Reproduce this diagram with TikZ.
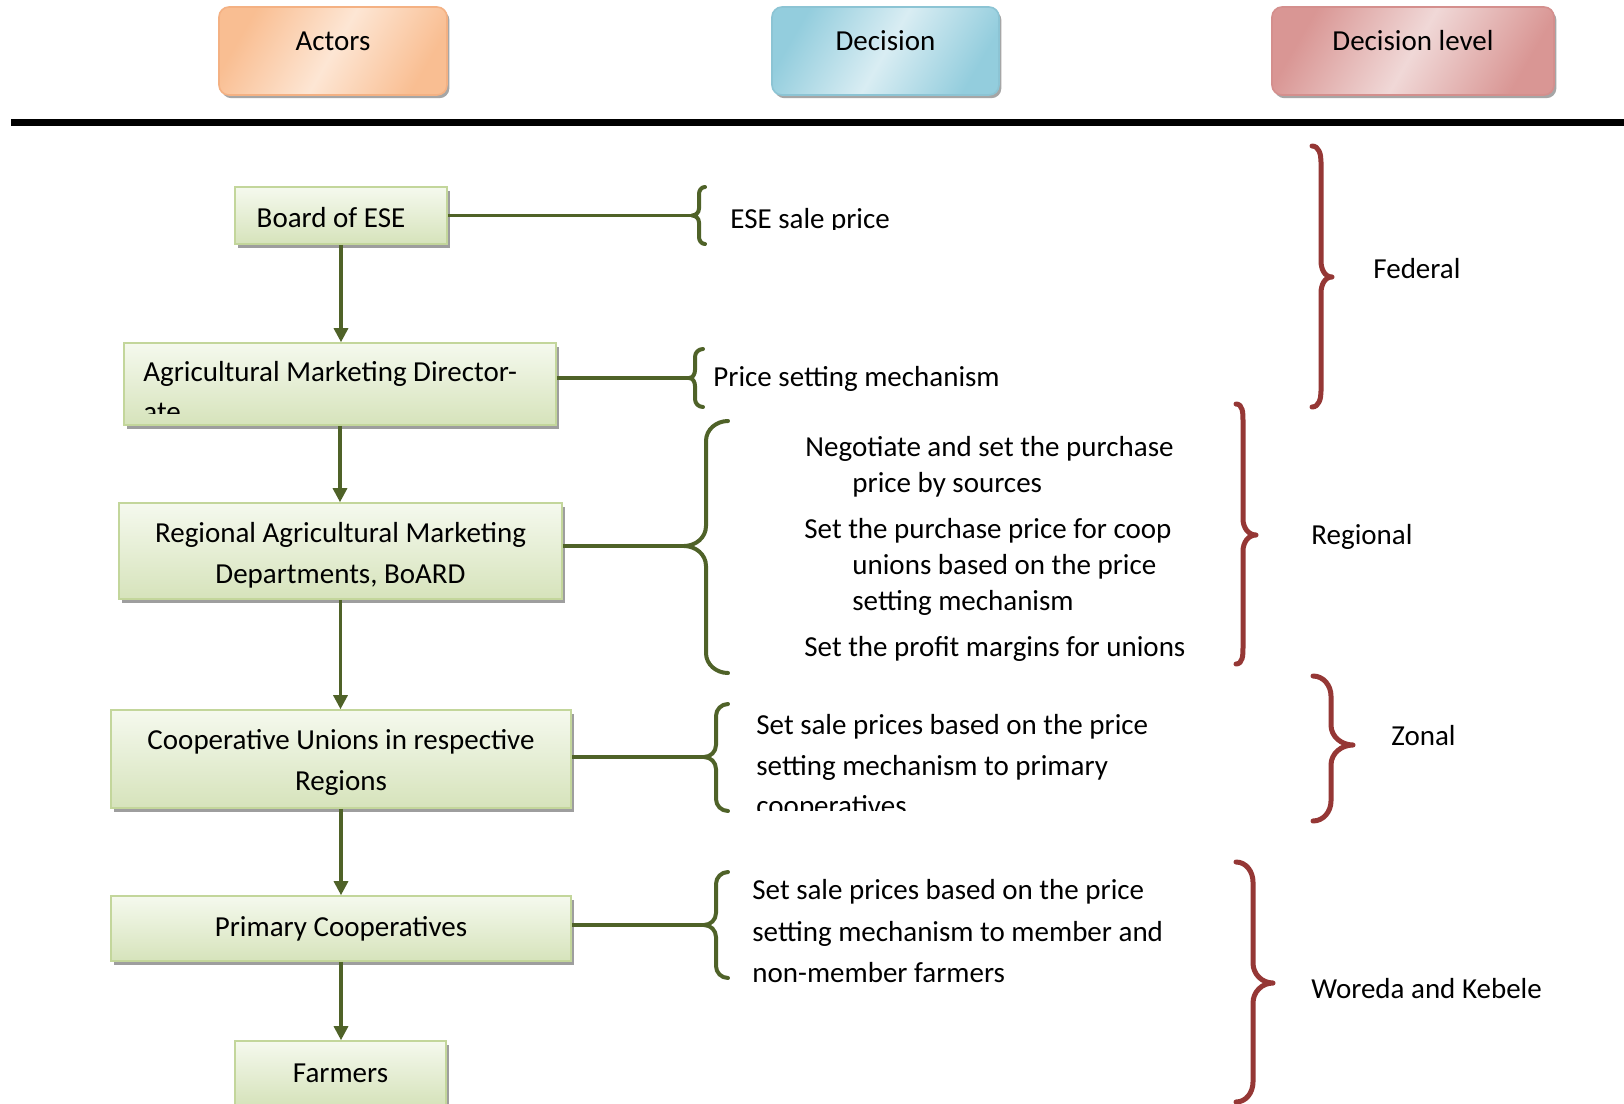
\documentclass[tikz,border=0pt]{standalone}
\usepackage{fontspec}
\setmainfont{Carlito}
\usetikzlibrary{arrows.meta,shadows}
\definecolor{gline}{HTML}{4F6228}
\definecolor{rbr}{HTML}{953735}
\definecolor{gtop}{HTML}{F5F9EE}
\definecolor{gbot}{HTML}{D6E3BB}
\definecolor{gborder}{HTML}{C3D69B}
\definecolor{oedge}{HTML}{F9BE92}
\definecolor{omid}{HTML}{FDE6D4}
\definecolor{oborder}{HTML}{F4B183}
\definecolor{bedge}{HTML}{93CDDD}
\definecolor{bmid}{HTML}{D9EDF3}
\definecolor{bborder}{HTML}{8CC4D4}
\definecolor{redge}{HTML}{D99694}
\definecolor{rmid}{HTML}{F0D8D7}
\definecolor{rborder}{HTML}{D48F8D}
% '{' : ends x, vertical x, tip x, top, mid, bottom, radius, style
\newcommand\myopenbrace[8]{%
  \draw[#8] (#1,#4) to[out=180,in=90] (#2,#4+#7) -- (#2,#5-#7)
    to[out=-90,in=0] (#3,#5) to[out=0,in=90] (#2,#5+#7) -- (#2,#6-#7)
    to[out=-90,in=180] (#1,#6);}
% '}'
\newcommand\myclosebrace[8]{%
  \draw[#8] (#1,#4) to[out=0,in=90] (#2,#4+#7) -- (#2,#5-#7)
    to[out=-90,in=180] (#3,#5) to[out=180,in=90] (#2,#5+#7) -- (#2,#6-#7)
    to[out=-90,in=0] (#1,#6);}
\begin{document}
\begin{tikzpicture}[x=0.5pt,y=-0.5pt,
  font=\fontsize{14.5}{20.5}\selectfont,
  gbox/.style={draw=gborder, line width=0.8pt, top color=gtop, bottom color=gbot,
    drop shadow={shadow xshift=1.6pt,shadow yshift=-2pt,fill=black!38,opacity=1},
    align=center, inner sep=0pt},
  hbox/.style={rounded corners=5pt, line width=0.8pt, minimum height=44pt, inner sep=0pt,
    drop shadow={shadow xshift=1.2pt,shadow yshift=-1.6pt,fill=black!35,opacity=1}},
  conn/.style={draw=gline, line width=1.6pt},
  arr/.style={conn, -{Triangle[width=7pt,length=7pt]}},
  txt/.style={anchor=base west, inner sep=0pt},
  gbrace/.style={draw=gline, line width=2pt, line cap=round, line join=round},
  rbrace/.style={draw=rbr, line width=2.5pt, line cap=round, line join=round}]
\clip (0,0) rectangle (1624,1104);
\fill[white] (0,0) rectangle (1624,1104);

% header boxes
\node[hbox, draw=oborder, left color=oedge, right color=oedge, middle color=omid, shading angle=60,
  minimum width=114pt, label={[yshift=5pt]center:Actors}] (actors) at (333,51) {};
\node[hbox, draw=bborder, left color=bedge, right color=bedge, middle color=bmid, shading angle=60,
  minimum width=113.5pt, label={[yshift=5pt]center:Decision}] (decision) at (885.5,51) {};
\node[hbox, draw=rborder, left color=redge, right color=redge, middle color=rmid, shading angle=60,
  minimum width=141pt, label={[yshift=5pt]center:Decision level}] (level) at (1413,51) {};

% heavy rule
\coordinate (ruleL) at (11,122.5);
\coordinate (ruleR) at (1624,122.5);
\draw[line width=3.5pt] (ruleL) -- (ruleR);

% actor boxes
\node[gbox, minimum width=106pt, minimum height=28.5pt] (board) at (341,215.5) {};
\node[gbox, minimum width=216pt, minimum height=41pt] (agri) at (340,384) {};
\node[gbox, minimum width=221.5pt, minimum height=48pt] (reg) at (340.5,551) {};
\node[gbox, minimum width=230pt, minimum height=49pt] (coop) at (341,759) {};
\node[gbox, minimum width=230pt, minimum height=32.5pt] (prim) at (341,928.5) {Primary Cooperatives};
\node[gbox, minimum width=105.5pt, minimum height=32pt] (farm) at (340.5,1073) {Farmers};
\node[inner sep=0pt] (boardt) at ([xshift=-5pt,yshift=-1pt]board.center) {Board of ESE};
\node[align=center, inner sep=0pt] (regt) at ([yshift=-2pt]reg.center) {Regional Agricultural Marketing\\Departments, BoARD};
\node[align=center, inner sep=0pt] (coopt) at ([yshift=-1.5pt]coop.center) {Cooperative Unions in respective\\Regions};

\begin{scope}
\clip (agri.north west) rectangle (556,413);
\node[txt] (agrit1) at (143,381) {Agricultural Marketing Director-};
\node[txt] (agrit2) at (143,421) {ate};
\end{scope}

% arrows
\draw[arr] (board.south) -- (board.south |- agri.north);
\draw[arr] (agri.south) -- (agri.south |- reg.north);
\draw[arr] (reg.south) -- (reg.south |- coop.north);
\draw[arr] (coop.south) -- (coop.south |- prim.north);
\draw[arr] (prim.south) -- (prim.south |- farm.north);

% brace tips
\coordinate (t1) at (692,215.5);
\coordinate (t2) at (689,378);
\coordinate (t3) at (684,546);
\coordinate (t4) at (704,757);
\coordinate (t5) at (704,925);

\draw[conn] (board.east |- t1) -- (t1);
\draw[conn] (agri.east |- t2) -- (t2);
\draw[conn] (reg.east |- t3) -- (t3);
\draw[conn] (coop.east |- t4) -- (t4);
\draw[conn] (prim.east |- t5) -- (t5);

% green braces
\myopenbrace{705}{699}{692}{187}{215.5}{244}{7}{gbrace}
\myopenbrace{703}{695}{689}{349}{378}{407}{8}{gbrace}
\myopenbrace{728}{706}{684}{421}{546}{673}{20}{gbrace}
\myopenbrace{728}{716}{704}{704}{757}{811}{12}{gbrace}
\myopenbrace{728}{716}{704}{872}{925}{978}{12}{gbrace}

% decision texts
\begin{scope}
\clip (715,190) rectangle (950,229);
\node[txt] (d1) at (730,228) {ESE sale price};
\end{scope}
\node[txt] (d2) at (713,386) {Price setting mechanism};
\node[txt] (d3a) at (805,456) {Negotiate and set the purchase};
\node[txt] (d3b) at (852,492) {price by sources};
\node[txt] (d3c) at (804,538) {Set the purchase price for coop};
\node[txt] (d3d) at (852,574) {unions based on the price};
\node[txt] (d3e) at (852,610) {setting mechanism};
\node[txt] (d3f) at (804,656) {Set the profit margins for unions};
\begin{scope}
\clip (740,690) rectangle (1200,810);
\node[txt] (d4a) at (756,734) {Set sale prices based on the price};
\node[txt] (d4b) at (756,775) {setting mechanism to primary};
\node[txt] (d4c) at (756,815) {cooperatives};
\end{scope}
\node[txt] (d5a) at (752,899) {Set sale prices based on the price};
\node[txt] (d5b) at (752,941) {setting mechanism to member and};
\node[txt] (d5c) at (752,982) {non-member farmers};

% red braces
\myclosebrace{1312}{1321}{1332}{146}{277}{407}{16}{rbrace}
\myclosebrace{1236}{1243}{1256}{404}{535}{664}{16}{rbrace}
\myclosebrace{1313}{1331}{1353}{676}{745}{821}{20}{rbrace}
\myclosebrace{1236}{1253}{1273}{862}{983}{1102}{20}{rbrace}

% level labels
\node[txt] (l1) at (1373,278) {Federal};
\node[txt] (l2) at (1311,544) {Regional};
\node[txt] (l3) at (1391,745) {Zonal};
\node[txt] (l4) at (1311,998) {Woreda and Kebele};
\end{tikzpicture}
\end{document}
